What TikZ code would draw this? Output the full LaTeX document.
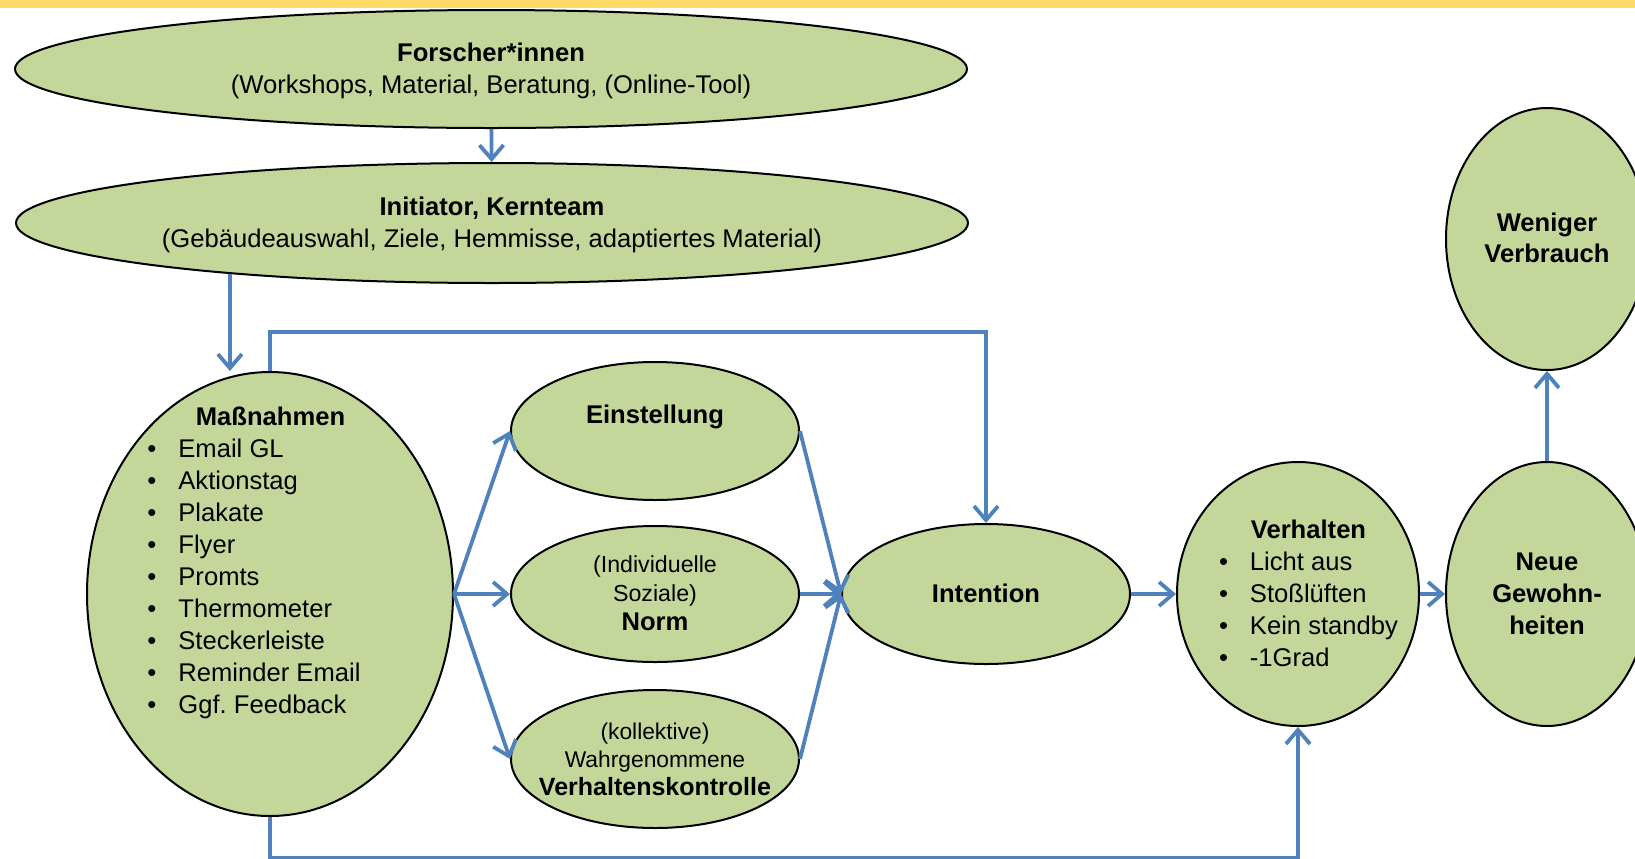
\documentclass[tikz,border=0pt]{standalone}
\usepackage{fontspec}
\setmainfont{Liberation Sans}
\usetikzlibrary{arrows.meta, positioning, shapes.geometric}
\definecolor{bandYellow}{HTML}{FFD966}
\definecolor{ellGreen}{HTML}{C4D79B}
\definecolor{flowBlue}{HTML}{4F81BD}
% text inside an ellipse without changing its size: #1 raise, #2 twice the x-shift
\newcommand{\inell}[3]{\makebox[0pt]{\hspace{#2}\raisebox{#1}[0pt][0pt]{#3}}}
\newcommand{\smtxt}{\fontsize{11.6}{14.5}\selectfont}
\newcommand{\bigtxt}{\fontsize{12.8}{14.5}\selectfont}

\begin{document}
\begin{tikzpicture}[x=0.5pt, y=-0.5pt,
    bubble/.style={ellipse, draw=black, line width=1pt, fill=ellGreen,
                   inner sep=0pt, font=\fontsize{12.8}{16}\selectfont},
    flow/.style={-{Straight Barb[length=7pt,width=12pt]}, line width=1.9pt,
                 flowBlue},
  ]
    \useasboundingbox (0,0) rectangle (1635,858);
    \fill[bandYellow] (0,0) rectangle (1635,7.5);

    \node[bubble, minimum width=476pt, minimum height=59pt] (fo) at (491,69)
      {\inell{-4pt}{0pt}{\begin{tabular}{@{}c@{}}\textbf{Forscher*innen}\\
        (Workshops, Material, Beratung, (Online-Tool)\end{tabular}}};
    \node[bubble, minimum width=476pt, minimum height=60pt] (ini) at (492,223)
      {\inell{-4pt}{0pt}{\begin{tabular}{@{}c@{}}\textbf{Initiator, Kernteam}\\
        (Gebäudeauswahl, Ziele, Hemmisse, adaptiertes Material)\end{tabular}}};

    \node[bubble, minimum width=183pt, minimum height=222pt] (mas) at (270,594)
      {\inell{12.5pt}{-16pt}{\begin{tabular}{@{}c@{\hspace{11pt}}l@{}}
        \multicolumn{2}{c}{\hspace{16.5pt}\textbf{Maßnahmen}}\\
        \textbullet & Email GL\\
        \textbullet & Aktionstag\\
        \textbullet & Plakate\\
        \textbullet & Flyer\\
        \textbullet & Promts\\
        \textbullet & Thermometer\\
        \textbullet & Steckerleiste\\
        \textbullet & Reminder Email\\
        \textbullet & Ggf.\ Feedback
      \end{tabular}}};

    \node[bubble, minimum width=144pt, minimum height=69pt] (ein) at (655,431)
      {\inell{4pt}{0pt}{\textbf{Einstellung}}};
    \node[bubble, minimum width=144pt, minimum height=68pt] (norm) at (655,594)
      {\inell{-4pt}{0pt}{\smtxt\begin{tabular}{@{}c@{}}(Individuelle\\
        Soziale)\\\bigtxt\textbf{Norm}\end{tabular}}};
    \node[bubble, minimum width=144pt, minimum height=69pt] (vk) at (655,759)
      {\inell{-4pt}{0pt}{\fontsize{11.4}{14}\selectfont\begin{tabular}{@{}c@{}}
        (kollektive)\\Wahrgenommene\\\fontsize{12.5}{14}\selectfont
        \textbf{Verhaltenskontrolle}\end{tabular}}};

    \node[bubble, minimum width=144pt, minimum height=70pt] (int) at (986,594)
      {\inell{-4pt}{0pt}{\textbf{Intention}}};

    \node[bubble, minimum width=121pt, minimum height=132pt] (verh) at (1298,594)
      {\inell{-4pt}{10.5pt}{\begin{tabular}{@{}c@{\hspace{11pt}}l@{}}
        \multicolumn{2}{c}{\textbf{Verhalten}\hspace{10pt}}\\
        \textbullet & Licht aus\\
        \textbullet & Stoßlüften\\
        \textbullet & Kein standby\\
        \textbullet & -1Grad
      \end{tabular}}};

    \node[bubble, minimum width=101pt, minimum height=132pt] (neue) at (1547,594)
      {\inell{-4pt}{0pt}{\begin{tabular}{@{}c@{}}\textbf{Neue}\\
        \textbf{Gewohn-}\\\textbf{heiten}\end{tabular}}};
    \node[bubble, minimum width=101pt, minimum height=131pt] (wen) at (1547,239)
      {\inell{-4pt}{0pt}{\fontsize{12.8}{15.5}\selectfont\begin{tabular}{@{}c@{}}
        \textbf{Weniger}\\\textbf{Verbrauch}\end{tabular}}};

    % connectors
    \draw[flow] (fo) -- (ini);
    \draw[flow] (ini.191) -- (ini.191 |- mas.north);
    \draw[flow] (mas.north) -- ++(0,-39) -| (int.north);
    \draw[flow] (mas.south) -- ++(0,41) -| (verh.south);
    \draw[flow] (mas.east) -- (ein.west);
    \draw[flow] (mas.east) -- (norm.west);
    \draw[flow] (mas.east) -- (vk.west);
    \draw[flow] (ein.east) -- (int.west);
    \draw[flow] (norm.east) -- (int.west);
    \draw[flow] (vk.east) -- (int.west);
    \draw[flow] (int) -- (verh);
    \draw[flow] (verh) -- (neue);
    \draw[flow] (neue) -- (wen);
\end{tikzpicture}
\end{document}
